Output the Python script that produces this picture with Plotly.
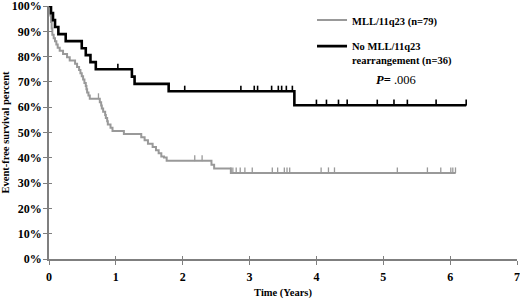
import numpy as np
import plotly.graph_objects as go

# ---- data ----
gray_name = "MLL/11q23 (n=79)"
gray_t = [0, 0.02, 0.03, 0.04, 0.05, 0.07, 0.09, 0.11, 0.13, 0.16, 0.21, 0.27, 0.31,
          0.39, 0.42, 0.45, 0.47, 0.49, 0.51, 0.53, 0.55, 0.56, 0.57, 0.59, 0.61,
          0.76, 0.78, 0.79, 0.81, 0.84, 0.85, 0.87, 0.88, 0.92, 0.95, 1.12, 1.38,
          1.43, 1.48, 1.55, 1.60, 1.64, 1.68, 1.72, 1.76, 2.43, 2.47, 2.72, 6.08]
gray_s = [100, 96.2, 93.7, 91.1, 88.6, 87.3, 86.1, 84.8, 83.5, 82.3, 81.0, 79.7, 78.5,
          77.2, 75.9, 74.7, 73.4, 72.2, 70.9, 69.6, 68.4, 67.1, 65.8, 64.6, 63.3,
          62.0, 60.7, 59.5, 58.2, 56.9, 55.7, 54.4, 53.2, 51.9, 50.6, 49.4, 48.1,
          46.9, 45.6, 44.3, 43.0, 41.8, 40.5, 40.1, 38.8, 37.3, 35.8, 34.0, 34.0]
gray_censor = [0.74, 2.18, 2.29, 2.72, 2.75, 2.80, 2.86, 2.93, 3.04, 3.34, 3.42, 3.52,
               3.56, 3.60, 4.07, 4.18, 4.27, 5.21, 5.66, 5.86, 6.01, 6.04, 6.08]

black_name = "No MLL/11q23<br>rearrangement (n=36)"
black_t = [0, 0.03, 0.06, 0.09, 0.14, 0.25, 0.49, 0.55, 0.62, 0.70, 1.24, 1.28, 1.79, 3.67, 6.24]
black_s = [100, 97.2, 94.4, 91.7, 88.9, 86.1, 83.3, 80.6, 77.8, 75.0, 72.1, 69.2, 66.3, 60.8, 60.8]
black_censor = [1.03, 2.03, 2.87, 3.07, 3.12, 3.33, 3.43, 3.48, 3.55, 3.64, 4.00, 4.15,
                4.33, 4.46, 4.91, 5.16, 5.36, 5.79, 6.24]

x_ticks = [0, 1, 2, 3, 4, 5, 6, 7]
y_ticks = [0, 10, 20, 30, 40, 50, 60, 70, 80, 90, 100]
y_ticklabels = [f"{v}%" for v in y_ticks]
p_text = "<b><i>P</i>=</b> .006"

GRAY = "#999999"
BLACK = "#000000"
AXIS = "#7f7f7f"
FONT = "Liberation Serif"


def step_value(ts, ss, t):
    ts = np.asarray(ts)
    ss = np.asarray(ss)
    idx = np.searchsorted(ts, t, side="right") - 1
    return ss[idx]


fig = go.Figure()
fig.add_trace(go.Scatter(x=gray_t, y=gray_s, mode="lines", name=gray_name, legendgroup="g1",
                         line=dict(shape="hv", color=GRAY, width=2)))
fig.add_trace(go.Scatter(x=black_t, y=black_s, mode="lines", name=black_name, legendgroup="g2",
                         line=dict(shape="hv", color=BLACK, width=2.6)))

for cens, ts, ss, col, th in [(gray_censor, gray_t, gray_s, GRAY, 1.3),
                              (black_censor, black_t, black_s, BLACK, 1.6)]:
    fig.add_trace(go.Scatter(
        x=cens, y=step_value(ts, ss, cens), mode="markers", showlegend=False,
        hoverinfo="skip", marker=dict(size=1, color=col),
        error_y=dict(type="constant", symmetric=False, value=2.2, valueminus=0,
                     width=0, thickness=th, color=col)))

# invisible trace to carry the inner tick axes
fig.add_trace(go.Scatter(x=[0], y=[0], xaxis="x2", yaxis="y2", mode="markers",
                         marker=dict(size=1, opacity=0), showlegend=False, hoverinfo="skip"))

tickfont = dict(family=FONT, size=12, color="black", weight="bold")
fig.update_layout(
    width=520, height=300,
    margin=dict(l=49, r=3, t=6, b=41, autoexpand=False),
    paper_bgcolor="white", plot_bgcolor="white",
    font=dict(family=FONT, color="black"),
    xaxis=dict(range=[0, 7], tickvals=x_ticks, ticktext=[str(v) for v in x_ticks],
               ticks="outside", ticklen=4, tickwidth=1, tickcolor=AXIS, automargin=False,
               showline=True, linecolor=AXIS, linewidth=1.5, showgrid=False, zeroline=False,
               tickfont=tickfont, ticklabelstandoff=2, ticklabeloverflow="allow",
               title=dict(text="Time (Years)", standoff=5,
                          font=dict(family=FONT, size=10.5, weight="bold"))),
    yaxis=dict(range=[0, 100], tickvals=y_ticks, ticktext=y_ticklabels,
               ticks="outside", ticklen=4, tickwidth=1, tickcolor=AXIS, automargin=False,
               showline=True, linecolor=AXIS, linewidth=1.5, showgrid=False, zeroline=False,
               tickfont=tickfont, ticklabelstandoff=-1, ticklabeloverflow="allow",
               title=dict(text="Event-free survival percent", standoff=4,
                          font=dict(family=FONT, size=10.5, weight="bold"))),
    xaxis2=dict(overlaying="x", anchor="y2", range=[0, 7], tickvals=x_ticks,
                ticks="inside", ticklen=3, tickwidth=1, tickcolor=AXIS, automargin=False,
                showticklabels=False, showline=False, showgrid=False, zeroline=False),
    yaxis2=dict(overlaying="y", anchor="x2", range=[0, 100], tickvals=y_ticks,
                ticks="inside", ticklen=3, tickwidth=1, tickcolor=AXIS, automargin=False,
                showticklabels=False, showline=False, showgrid=False, zeroline=False),
    legend=dict(x=0.562, y=0.997, xanchor="left", yanchor="top", valign="top",
                bgcolor="rgba(0,0,0,0)", tracegroupgap=7,
                font=dict(family=FONT, size=10.5, weight="bold")),
    showlegend=True,
    annotations=[dict(text=p_text, xref="paper", yref="paper", x=0.742, y=0.706,
                      xanchor="center", yanchor="middle", showarrow=False,
                      font=dict(family=FONT, size=12.5, color="black"))],
)

fig.write_html("out.html", config={"displayModeBar": False},
               post_script="document.body.style.margin='0px';")
